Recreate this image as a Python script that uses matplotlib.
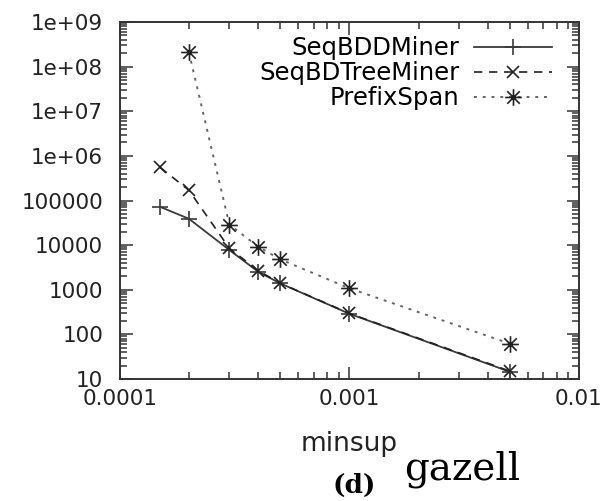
import matplotlib
matplotlib.use("Agg")
import matplotlib.pyplot as plt
from matplotlib.path import Path
from matplotlib.ticker import LogLocator, NullFormatter

plt.rcParams['font.family'] = ['DejaVu Sans']

# minimum support values and runtimes per miner
minsup = [0.00015, 0.0002, 0.0003, 0.0004, 0.0005, 0.001, 0.005]
seqbdd = [72000, 39000, 7800, 2550, 1390, 290, 14.5]
seqbdtree = [550000, 170000, 8500, 2700, 1400, 295, 15]
prefix_minsup = [0.0002, 0.0003, 0.0004, 0.0005, 0.001, 0.005]
prefixspan = [2.1e8, 29000, 9300, 4800, 1080, 62]

xticks = [0.0001, 0.001, 0.01]
xticklabels = ['0.0001', '0.001', '0.01']
yticks = [10, 100, 1000, 10000, 100000, 1e6, 1e7, 1e8, 1e9]
yticklabels = ['10', '100', '1000', '10000', '100000',
               '1e+06', '1e+07', '1e+08', '1e+09']

# gnuplot style asterisk: plus and cross drawn together
star = Path([(-1, 0), (1, 0), (0, -1), (0, 1),
             (-0.75, -0.75), (0.75, 0.75), (-0.75, 0.75), (0.75, -0.75)],
            [Path.MOVETO, Path.LINETO] * 4)

fig = plt.figure(figsize=(6.05, 5.01), dpi=100)
ax = fig.add_axes([0.198, 0.2435, 0.759, 0.7125])

ax.plot(minsup, seqbdd, color='#3a3a3a', lw=1.3, marker='+', ms=11,
        mew=1.2, label='SeqBDDMiner')
ax.plot(minsup, seqbdtree, color='#222222', lw=1.2, ls=(0, (5, 4)),
        marker='x', ms=9, mew=1.2, label='SeqBDTreeMiner')
ax.plot(prefix_minsup, prefixspan, color='#666666', lw=1.4, ls=(0, (1.5, 3)),
        marker=star, ms=12, mew=1.2, mec='#222222', label='PrefixSpan')

ax.set_xscale('log')
ax.set_yscale('log')
ax.set_xlim(0.0001, 0.01)
ax.set_ylim(10, 1e9)
ax.set_xticks(xticks)
ax.set_xticklabels(xticklabels)
ax.set_yticks(yticks)
ax.set_yticklabels(yticklabels)
ax.xaxis.set_minor_locator(LogLocator(base=10, subs=range(2, 10)))
ax.yaxis.set_minor_locator(LogLocator(base=10, subs=range(2, 10), numticks=20))
ax.xaxis.set_minor_formatter(NullFormatter())
ax.yaxis.set_minor_formatter(NullFormatter())

ax.tick_params(which='both', direction='in', top=True, right=True,
               color='#333333', width=1.1, labelsize=15.5, labelcolor='#222222')
ax.tick_params(which='major', length=9)
ax.tick_params(which='minor', length=5)
ax.tick_params(axis='y', pad=12)
ax.tick_params(axis='x', pad=7)
for s in ax.spines.values():
    s.set_color('#333333')
    s.set_linewidth(1.4)

ax.set_xlabel('minsup', fontsize=19, color='#222222', labelpad=16)

ax.legend(loc='upper right', bbox_to_anchor=(0.975, 1.005), frameon=False,
          markerfirst=False, fontsize=17.5, handlelength=3.2,
          handletextpad=0.6, labelspacing=0.05, borderaxespad=0.25)

fig.text(0.585, 0.032, '(d)', family='DejaVu Serif', weight='bold',
         fontsize=19, ha='center', va='center')
fig.text(0.668, 0.042, 'gazell', family='DejaVu Serif',
         fontsize=28, ha='left', va='baseline')

fig.savefig('out.png', dpi=100)
